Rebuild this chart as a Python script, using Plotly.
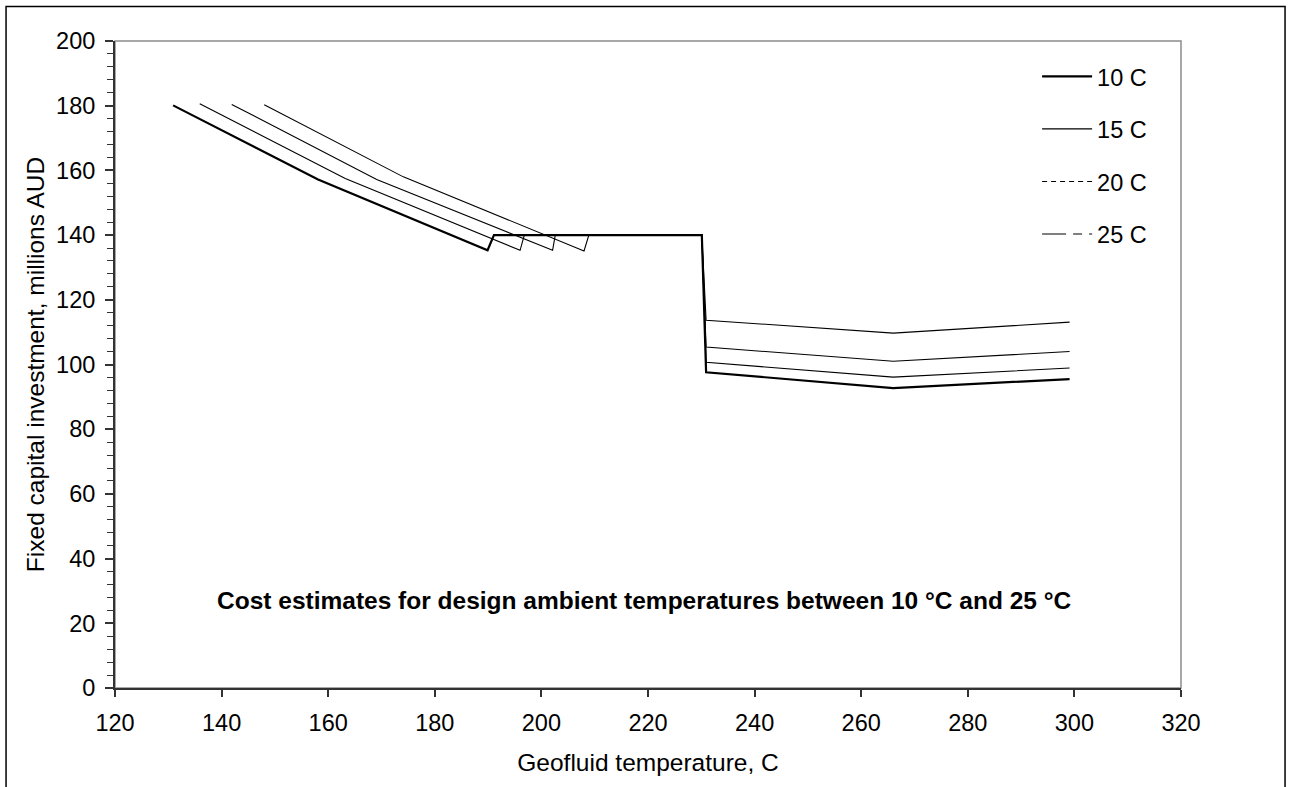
import plotly.graph_objects as go

# ---- data ----
series_names = ["10 C", "15 C", "20 C", "25 C"]

x_10 = [130.9, 158.1, 189.9, 191.1, 230.1, 230.9, 266.0, 299.1]
y_10 = [180.1, 157.2, 135.3, 140.0, 140.0, 97.6, 92.7, 95.5]

x_15 = [135.9, 163.2, 196.0, 196.8, 230.1, 230.9, 266.0, 299.1]
y_15 = [180.6, 157.5, 135.3, 140.0, 140.0, 100.7, 96.1, 98.9]

x_20 = [141.9, 169.1, 202.1, 202.6, 230.1, 230.9, 266.0, 299.1]
y_20 = [180.4, 157.2, 135.3, 140.0, 140.0, 105.4, 101.0, 104.0]

x_25 = [148.0, 174.1, 208.0, 208.9, 230.1, 230.9, 266.0, 299.1]
y_25 = [180.3, 158.0, 135.1, 140.0, 140.0, 113.7, 109.7, 113.1]

xs = [x_10, x_15, x_20, x_25]
ys = [y_10, y_15, y_20, y_25]

x_title = "Geofluid temperature, C"
y_title = "Fixed capital investment, millions AUD"
note = "Cost estimates for design ambient temperatures between 10 °C and 25 °C"
note_x, note_y = 219.4, 27.0

# ---- styles ----
FONT = "Arial, Liberation Sans, sans-serif"
FS_TICK = 23.5
FS_TITLE = 24.5
widths = [2.2, 1.1, 1.1, 1.1]
legend_dash = ["solid", "solid", "5px,4px", "24px,7px,9px,7px"]

fig = go.Figure()
for name, x, y, w in zip(series_names, xs, ys, widths):
    fig.add_trace(go.Scatter(x=x, y=y, mode="lines", name=name, showlegend=False,
                             line=dict(color="black", width=w)))
# legend entries (no data, style only)
for name, w, d in zip(series_names, widths, legend_dash):
    fig.add_trace(go.Scatter(x=[None], y=[None], mode="lines", name=name,
                             legendgroup=name,
                             line=dict(color="black", width=w, dash=d)))

fig.add_annotation(x=note_x, y=note_y, xref="x", yref="y", text="<b>" + note + "</b>",
                   showarrow=False, font=dict(family=FONT, size=FS_TITLE, color="black"))

# plot-area frame (top/right grey) and outer chart border
fig.add_shape(type="rect", xref="paper", yref="paper", x0=0, x1=1, y0=0, y1=1,
              line=dict(color="#8c8c8c", width=1.5), layer="below")
fig.add_shape(type="rect", xref="paper", yref="paper", x0=-0.1022, x1=1.0976,
              y0=-0.2, y1=1.0535, line=dict(color="black", width=1.5), layer="below")

fig.update_layout(
    width=1291, height=787,
    margin=dict(l=115, r=110, t=41, b=99),
    paper_bgcolor="white", plot_bgcolor="white",
    font=dict(family=FONT, size=FS_TICK, color="black"),
    showlegend=True,
    legend=dict(x=0.865, y=0.979, xanchor="left", yanchor="top",
                bgcolor="rgba(0,0,0,0)", font=dict(family=FONT, size=FS_TICK),
                tracegroupgap=19, itemwidth=50),
    xaxis=dict(range=[120, 320], dtick=20, tick0=120, showgrid=False, zeroline=False,
               showline=True, linecolor="#333333", linewidth=2,
               ticks="outside", ticklen=7, tickwidth=1.5, tickcolor="#333333",
               ticklabelstandoff=6,
               title=dict(text=x_title, font=dict(family=FONT, size=FS_TITLE), standoff=19)),
    yaxis=dict(range=[0, 200], dtick=20, showgrid=False, zeroline=False,
               showline=True, linecolor="#333333", linewidth=2,
               ticks="outside", ticklen=8, tickwidth=1.5, tickcolor="#333333",
               ticklabelstandoff=5,
               minor=dict(dtick=4, ticks="outside", ticklen=6, tickwidth=1.2, tickcolor="#333333"),
               title=dict(text=y_title, font=dict(family=FONT, size=FS_TITLE), standoff=5)),
)

fig.write_html("out.html", config={"displayModeBar": False},
               post_script="document.body.style.margin='0px';")
